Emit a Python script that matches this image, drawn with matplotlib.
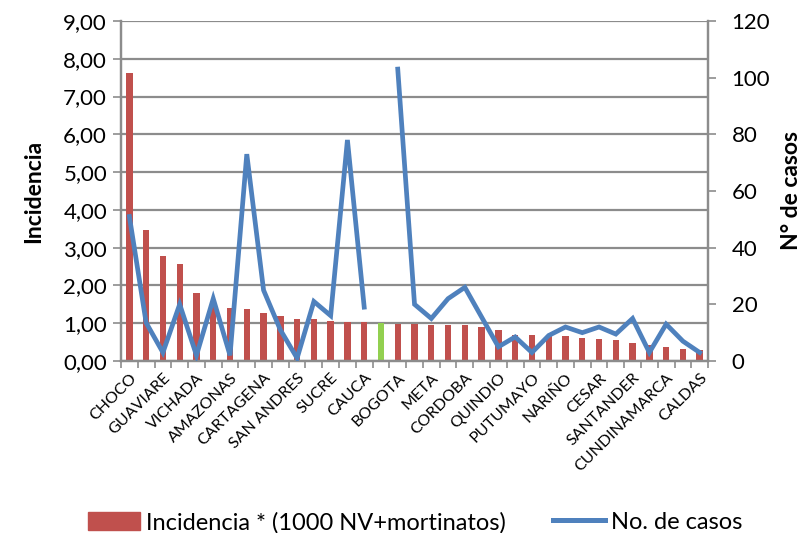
import numpy as np
import matplotlib
matplotlib.use('Agg')
import matplotlib.pyplot as plt
from matplotlib.patches import Patch
from matplotlib.lines import Line2D

plt.rcParams['font.family'] = ['Lato', 'DejaVu Sans']

# ── Data ──────────────────────────────────────────────────────────────────────
# 35 categories, only every other one is labelled on the axis
labels_shown = ['CHOCO', 'GUAVIARE', 'VICHADA', 'AMAZONAS', 'CARTAGENA', 'SAN ANDRES',
                'SUCRE', 'CAUCA', 'BOGOTA', 'META', 'CORDOBA', 'QUINDIO', 'PUTUMAYO',
                'NARIÑO', 'CESAR', 'SANTANDER', 'CUNDINAMARCA', 'CALDAS']
incidencia = [7.63, 3.47, 2.77, 2.56, 1.80, 1.42, 1.40, 1.37, 1.28, 1.19, 1.12, 1.10,
              1.05, 1.03, 1.03, 1.00, 0.98, 0.98, 0.96, 0.95, 0.95, 0.91, 0.83, 0.70,
              0.68, 0.66, 0.66, 0.60, 0.57, 0.55, 0.48, 0.42, 0.37, 0.32, 0.28]
casos = [51, 13.5, 3, 20, 2, 22, 2, 73, 25, 11, 1, 21, 16, 78, 19, np.nan,
         103, 20, 15, 22, 26, 15.5, 5, 8.5, 3, 9, 12, 10, 12, 9.5, 15, 3, 13, 7, 3]
highlight_idx = 15  # national total bar, drawn in green

RED = '#C0504D'
GREEN = '#92D050'
BLUE = '#4F81BD'
GRID = '#8C8C8C'

n = len(incidencia)
x = np.arange(n)
colors = [GREEN if i == highlight_idx else RED for i in range(n)]

fig = plt.figure(figsize=(8.12, 5.33), dpi=100)
ax = fig.add_axes([0.149, 0.3227, 0.723, 0.638])
ax2 = ax.twinx()

ax.bar(x, incidencia, width=0.38, color=colors, zorder=2)
ax.set_ylim(0, 9)
ax.set_xlim(-0.5, n - 0.5)
ax.set_yticks(np.arange(0, 10, 1))
ax.set_yticklabels([f'{v:.2f}'.replace('.', ',') for v in np.arange(0, 10, 1)], fontsize=16)
ax.yaxis.grid(True, color=GRID, linewidth=1.6, zorder=0)
ax.set_axisbelow(True)
ax.set_ylabel('Incidencia', fontsize=16.5, fontweight='bold', labelpad=14)

# x axis: ticks at category boundaries, labels at every other centre
ax.set_xticks(np.arange(-0.5, n, 1), minor=True)
ax.set_xticks(x[::2])
ax.set_xticklabels(labels_shown, rotation=45, ha='right', rotation_mode='anchor', fontsize=11.5)
ax.tick_params(axis='x', which='major', length=0, pad=7)
ax.tick_params(axis='x', which='minor', length=5, color=GRID, width=1.2)
ax.tick_params(axis='y', length=6, color=GRID, width=1.2, pad=4)

ax2.plot(x, casos, color=BLUE, linewidth=3.4, solid_joinstyle='miter', zorder=3)
ax2.set_ylim(0, 120)
ax2.set_yticks(np.arange(0, 121, 20))
ax2.tick_params(axis='y', labelsize=16, length=6, color=GRID, width=1.2, pad=11)
ax2.set_ylabel('N° de casos', fontsize=16.5, fontweight='bold', labelpad=8)

for a in (ax, ax2):
    a.spines['top'].set_visible(False)
    for s in ('left', 'right', 'bottom'):
        a.spines[s].set_color(GRID)
        a.spines[s].set_linewidth(1.6)

handles = [Patch(color=RED), Line2D([0], [0], color=BLUE, linewidth=3.6)]
fig.legend(handles, ['Incidencia * (1000 NV+mortinatos)', 'No. de casos'],
           loc='center', bbox_to_anchor=(0.511, 0.02), ncol=2, frameon=False,
           fontsize=17, handlelength=2.2, handleheight=0.8, handletextpad=0.25,
           columnspacing=2.0, borderpad=0)

fig.savefig('out.png', dpi=100)
